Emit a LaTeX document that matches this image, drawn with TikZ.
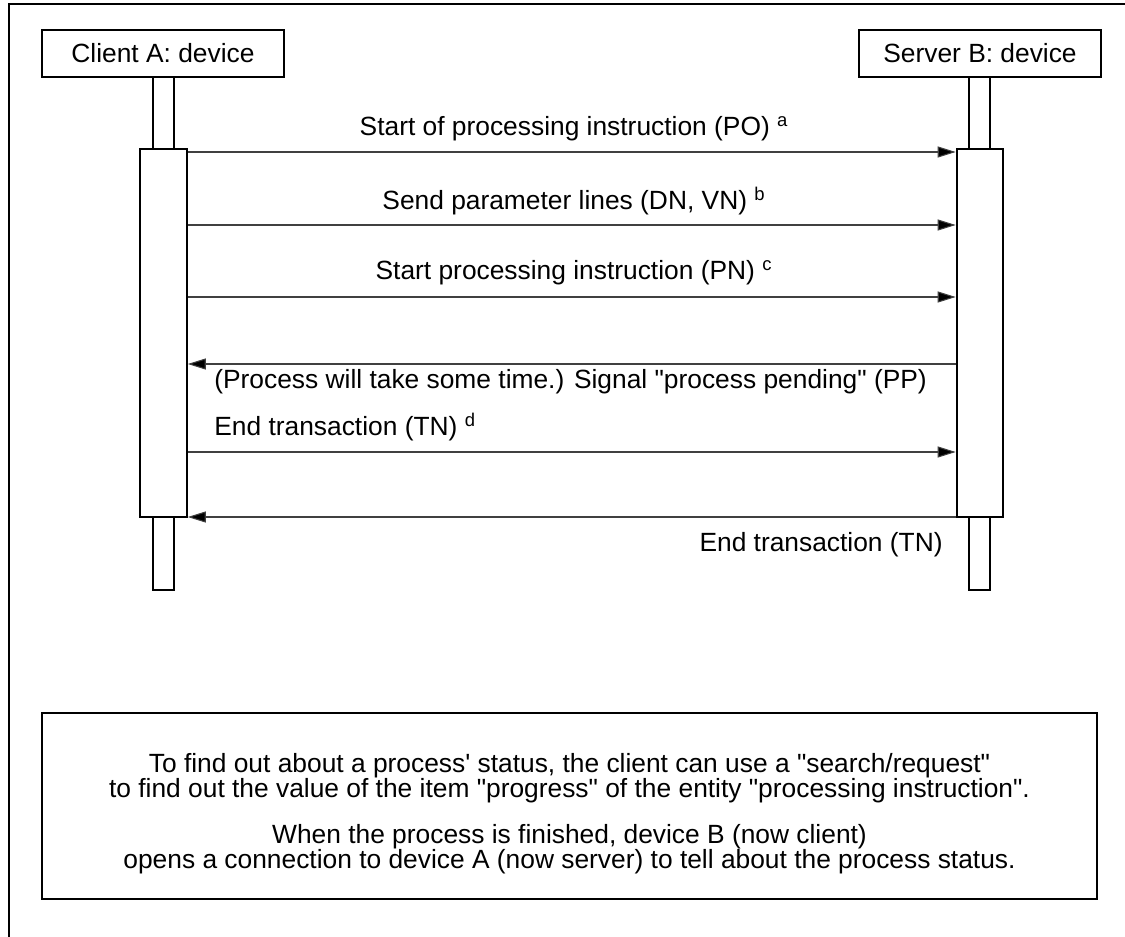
\documentclass[tikz,border=0pt]{standalone}
\usepackage{fontspec}
% plain straight quotation marks, no TeX ligatures
\setmainfont{Liberation Sans}[Ligatures=TeXOff]
\usetikzlibrary{arrows.meta}

\begin{document}
\begin{tikzpicture}[x=0.02cm, y=-0.02cm,
  every node/.style={font=\fontsize{15}{17}\selectfont},
  frame/.style={draw, line width=1.1pt},
  actor/.style={draw, line width=1.4pt, rectangle, inner sep=0pt,
    minimum width=4.84cm, minimum height=0.94cm},
  lifeline/.style={draw, line width=1.4pt, rectangle, inner sep=0pt,
    minimum width=0.42cm},
  activation/.style={draw, line width=1.2pt, rectangle, inner sep=0pt,
    minimum width=0.93cm, minimum height=7.36cm},
  msg/.style={line width=0.6pt, draw=black!75,
    -{Triangle[length=3.6mm, width=2.2mm, fill=black]}},
  lbl/.style={inner sep=0pt},
  note/.style={draw, line width=1.2pt, rectangle, inner sep=0pt,
    minimum width=21.1cm, minimum height=3.72cm}
]
\useasboundingbox (0,0) rectangle (1125,936);

% outer frame
\draw[frame] (9,4) rectangle (1160,980);

% participants
\node[actor] (A) at (163,53.5) {Client A: device};
\node[actor] (B) at (980,53.5) {Server B: device};

% lifelines and activation bars
\node[lifeline, minimum height=1.44cm] (Atop) at (163.5,113) {};
\node[lifeline, minimum height=1.44cm] (Btop) at (979.5,113) {};
\node[activation] (Aact) at (163.5,333) {};
\node[activation] (Bact) at (980,333) {};
\node[lifeline, minimum height=1.46cm] (Abot) at (163.5,553.5) {};
\node[lifeline, minimum height=1.46cm] (Bbot) at (979.5,553.5) {};

% message rows
\coordinate (m1) at (0,152);
\coordinate (m2) at (0,225);
\coordinate (m3) at (0,297);
\coordinate (m4) at (0,364);
\coordinate (m5) at (0,452);
\coordinate (m6) at (0,517);

\draw[msg] (Aact.east |- m1) -- (Bact.west |- m1);
\draw[msg] (Aact.east |- m2) -- (Bact.west |- m2);
\draw[msg] (Aact.east |- m3) -- (Bact.west |- m3);
\draw[msg] (Bact.west |- m4) -- (Aact.east |- m4);
\draw[msg] (Aact.east |- m5) -- (Bact.west |- m5);
\draw[msg] (Bact.west |- m6) -- (Aact.east |- m6);

% message labels
\node[lbl] (l1) at (574,129) {Start of processing instruction (PO) \textsuperscript{a}};
\node[lbl] (l2) at (574,201) {Send parameter lines (DN, VN) \textsuperscript{b}};
\node[lbl] (l3) at (574,273) {Start processing instruction (PN) \textsuperscript{c}};
\node[lbl, anchor=west] (l4) at (214,382) {(Process will take some time.) Signal "process pending" (PP)};
\node[lbl, anchor=west] (l5) at (214,427) {End transaction (TN) \textsuperscript{d}};
\node[lbl, anchor=east] (l6) at (943,545) {End transaction (TN)};

% note
\node[note] (N) at (569.5,806) {};
\node[lbl, align=center, font=\fontsize{15}{14.2}\selectfont] (Ntext) at (569.5,814)
  {To find out about a process' status, the client can use a "search/request"\\
   to find out the value of the item "progress" of the entity "processing instruction".\\[11.9pt]
   When the process is finished, device B (now client)\\
   opens a connection to device A (now server) to tell about the process status.};
\end{tikzpicture}
\end{document}
